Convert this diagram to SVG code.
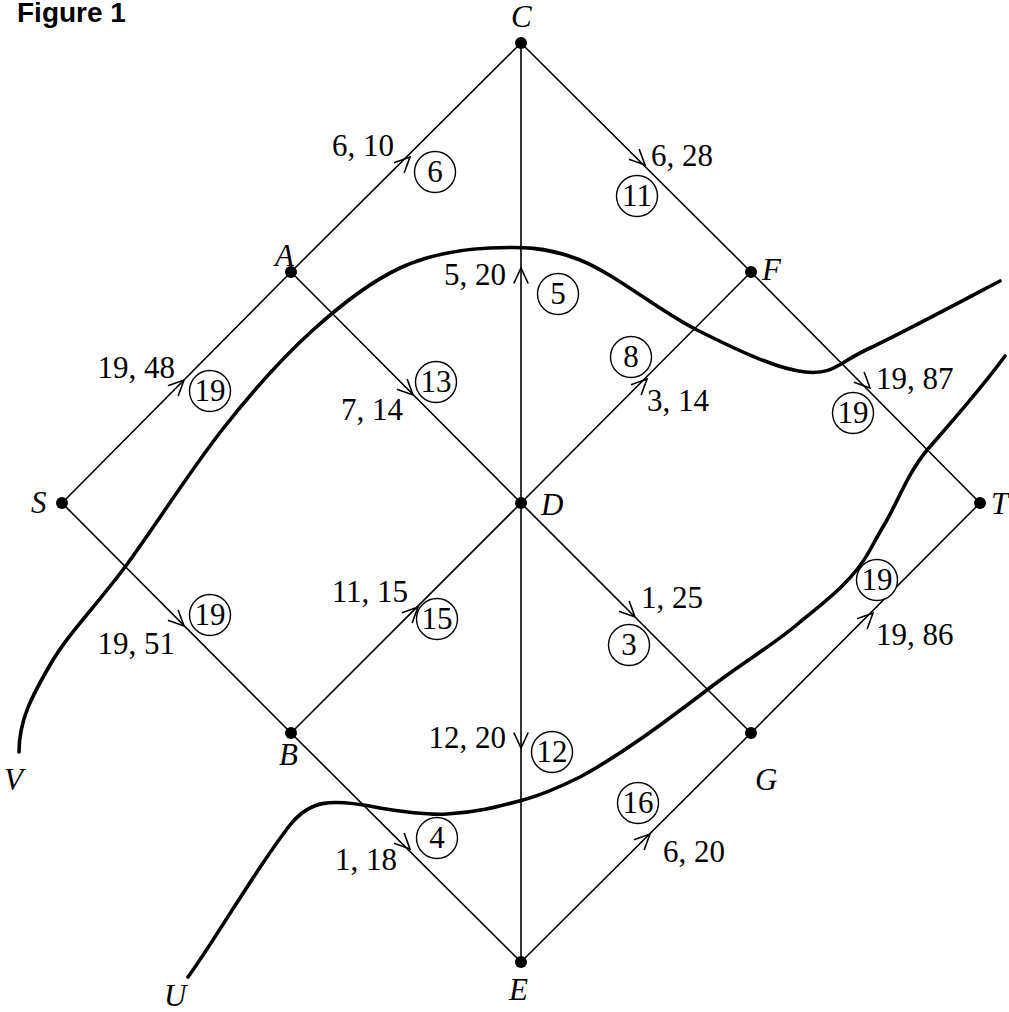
<svg xmlns="http://www.w3.org/2000/svg" xmlns:xlink="http://www.w3.org/1999/xlink" width="1009" height="1012" viewBox="0 0 1009 1012">
<style>
.e{stroke:#000;stroke-width:1.6;fill:none}
.cut{stroke:#000;stroke-width:3.6;fill:none;stroke-linecap:round}
.ah{stroke:#000;stroke-width:1.6;fill:none}
.lbl{font-family:"Liberation Serif","Times New Roman",serif;font-size:31px;fill:#000}
.nl{font-family:"Liberation Serif","Times New Roman",serif;font-size:31px;font-style:italic;fill:#000}
.ring{stroke:#000;stroke-width:1.4;fill:#fff}
.dot{fill:#000}
</style>
<defs>
<path id="ah" d="M-15.5,-7.2 L0,0 L-15.5,7.2"/>
</defs>
<rect width="1009" height="1012" fill="#fff"/>
<text x="17" y="22" font-family="'Liberation Sans',Arial,sans-serif" font-weight="bold" font-size="28">Figure 1</text>

<g id="connectors">
<line class="e" x1="62" y1="503" x2="291" y2="272"/>
<line class="e" x1="291" y1="272" x2="521" y2="43"/>
<line class="e" x1="521" y1="43" x2="751" y2="272"/>
<line class="e" x1="751" y1="272" x2="980" y2="503"/>
<line class="e" x1="291" y1="272" x2="521" y2="503"/>
<line class="e" x1="521" y1="503" x2="751" y2="272"/>
<line class="e" x1="521" y1="43" x2="521" y2="962"/>
<line class="e" x1="62" y1="503" x2="291" y2="733"/>
<line class="e" x1="291" y1="733" x2="521" y2="503"/>
<line class="e" x1="521" y1="503" x2="751" y2="733"/>
<line class="e" x1="751" y1="733" x2="980" y2="503"/>
<line class="e" x1="291" y1="733" x2="521" y2="962"/>
<line class="e" x1="521" y1="962" x2="751" y2="733"/>
<g class="ah">
<use xlink:href="#ah" transform="translate(184,380) rotate(-45)"/>
<use xlink:href="#ah" transform="translate(410,157) rotate(-45)"/>
<use xlink:href="#ah" transform="translate(645,165) rotate(45)"/>
<use xlink:href="#ah" transform="translate(870,388) rotate(45)"/>
<use xlink:href="#ah" transform="translate(413,395) rotate(45)"/>
<use xlink:href="#ah" transform="translate(647,379) rotate(-45)"/>
<use xlink:href="#ah" transform="translate(521,268) rotate(-90)"/>
<use xlink:href="#ah" transform="translate(184,626) rotate(45)"/>
<use xlink:href="#ah" transform="translate(418,607) rotate(-45)"/>
<use xlink:href="#ah" transform="translate(635,617) rotate(45)"/>
<use xlink:href="#ah" transform="translate(873,613) rotate(-45)"/>
<use xlink:href="#ah" transform="translate(521,748) rotate(90)"/>
<use xlink:href="#ah" transform="translate(410,849) rotate(45)"/>
<use xlink:href="#ah" transform="translate(650,834) rotate(-45)"/>
</g>
</g>

<g id="cuts">
<path class="cut" d="M19,752 C19,720 32,696 50,665 C67.7,634 96,606 125,567 C153.7,528 191,469.5 222,430 C253,390.5 283,357 313,330 C343,303 370.5,281.7 400,268 C429.5,254.3 460,249.3 490,248 C520,246.7 545.5,246.3 580,260 C614.5,273.7 659.5,311.3 697,330 C734.5,348.7 776,369 805,372 C834,375 837.5,363 870,348 C902.5,332.8 978,292.5 1000,281"/>
<path class="cut" d="M188,977 C215,940 255,870 290,825 C310,800 330,798 380,808 C410,813 430,815 447,814 C480,812 500,806 523,800 C545,794 560,787 580,777 C630,750 680,710 723,678 C750,658 780,640 800,622 C830,598 855,578 870,550 C878,535 881,530 887,520 C900,496 910,470 928,449 C955,418 980,390 1005,356"/>
</g>

<g id="node-C"><circle class="dot" cx="521" cy="43" r="6"/><text class="nl" x="511" y="27">C</text></g>
<g id="node-A"><circle class="dot" cx="291" cy="272" r="6"/><text class="nl" x="275" y="266">A</text></g>
<g id="node-F"><circle class="dot" cx="751" cy="272" r="6"/><text class="nl" x="762" y="280">F</text></g>
<g id="node-S"><circle class="dot" cx="62" cy="503" r="6"/><text class="nl" x="31" y="513">S</text></g>
<g id="node-D"><circle class="dot" cx="521" cy="503" r="6"/><text class="nl" x="541" y="515">D</text></g>
<g id="node-T"><circle class="dot" cx="980" cy="503" r="6"/><text class="nl" x="991" y="514">T</text></g>
<g id="node-B"><circle class="dot" cx="291" cy="733" r="6"/><text class="nl" x="279" y="765">B</text></g>
<g id="node-G"><circle class="dot" cx="751" cy="733" r="6"/><text class="nl" x="755" y="790">G</text></g>
<g id="node-E"><circle class="dot" cx="521" cy="962" r="6"/><text class="nl" x="509" y="1000">E</text></g>
<g id="label-U"><text class="nl" x="164" y="1006">U</text></g>
<g id="label-V"><text class="nl" x="4" y="790">V</text></g>

<g id="edge-labels" class="lbl">
<text x="394" y="156" text-anchor="end">6, 10</text>
<text x="651" y="166">6, 28</text>
<text x="506" y="285" text-anchor="end">5, 20</text>
<text x="175" y="378" text-anchor="end">19, 48</text>
<text x="403" y="420" text-anchor="end">7, 14</text>
<text x="647" y="411">3, 14</text>
<text x="876" y="389">19, 87</text>
<text x="175" y="654" text-anchor="end">19, 51</text>
<text x="408" y="602" text-anchor="end">11, 15</text>
<text x="641" y="608">1, 25</text>
<text x="876" y="645">19, 86</text>
<text x="506" y="748" text-anchor="end">12, 20</text>
<text x="397" y="870" text-anchor="end">1, 18</text>
<text x="663" y="862">6, 20</text>
</g>

<g id="flows">
<g><circle class="ring" cx="435" cy="172" r="20.5"/><text class="lbl" x="435" y="182" text-anchor="middle">6</text></g>
<g><circle class="ring" cx="637" cy="196" r="20.5"/><text class="lbl" x="637" y="206" text-anchor="middle">11</text></g>
<g><circle class="ring" cx="558" cy="294" r="20.5"/><text class="lbl" x="558" y="304" text-anchor="middle">5</text></g>
<g><circle class="ring" cx="210" cy="391" r="20.5"/><text class="lbl" x="210" y="401" text-anchor="middle">19</text></g>
<g><circle class="ring" cx="436" cy="382" r="20.5"/><text class="lbl" x="436" y="392" text-anchor="middle">13</text></g>
<g><circle class="ring" cx="631" cy="357" r="20.5"/><text class="lbl" x="631" y="367" text-anchor="middle">8</text></g>
<g><circle class="ring" cx="853" cy="413" r="20.5"/><text class="lbl" x="853" y="423" text-anchor="middle">19</text></g>
<g><circle class="ring" cx="210" cy="615" r="20.5"/><text class="lbl" x="210" y="625" text-anchor="middle">19</text></g>
<g><circle class="ring" cx="437" cy="619" r="20.5"/><text class="lbl" x="437" y="629" text-anchor="middle">15</text></g>
<g><circle class="ring" cx="629" cy="645" r="20.5"/><text class="lbl" x="629" y="655" text-anchor="middle">3</text></g>
<g><circle class="ring" cx="877" cy="580" r="20.5"/><text class="lbl" x="877" y="590" text-anchor="middle">19</text></g>
<g><circle class="ring" cx="552" cy="752" r="20.5"/><text class="lbl" x="552" y="762" text-anchor="middle">12</text></g>
<g><circle class="ring" cx="437" cy="838" r="20.5"/><text class="lbl" x="437" y="848" text-anchor="middle">4</text></g>
<g><circle class="ring" cx="638" cy="803" r="20.5"/><text class="lbl" x="638" y="813" text-anchor="middle">16</text></g>
</g>
</svg>
